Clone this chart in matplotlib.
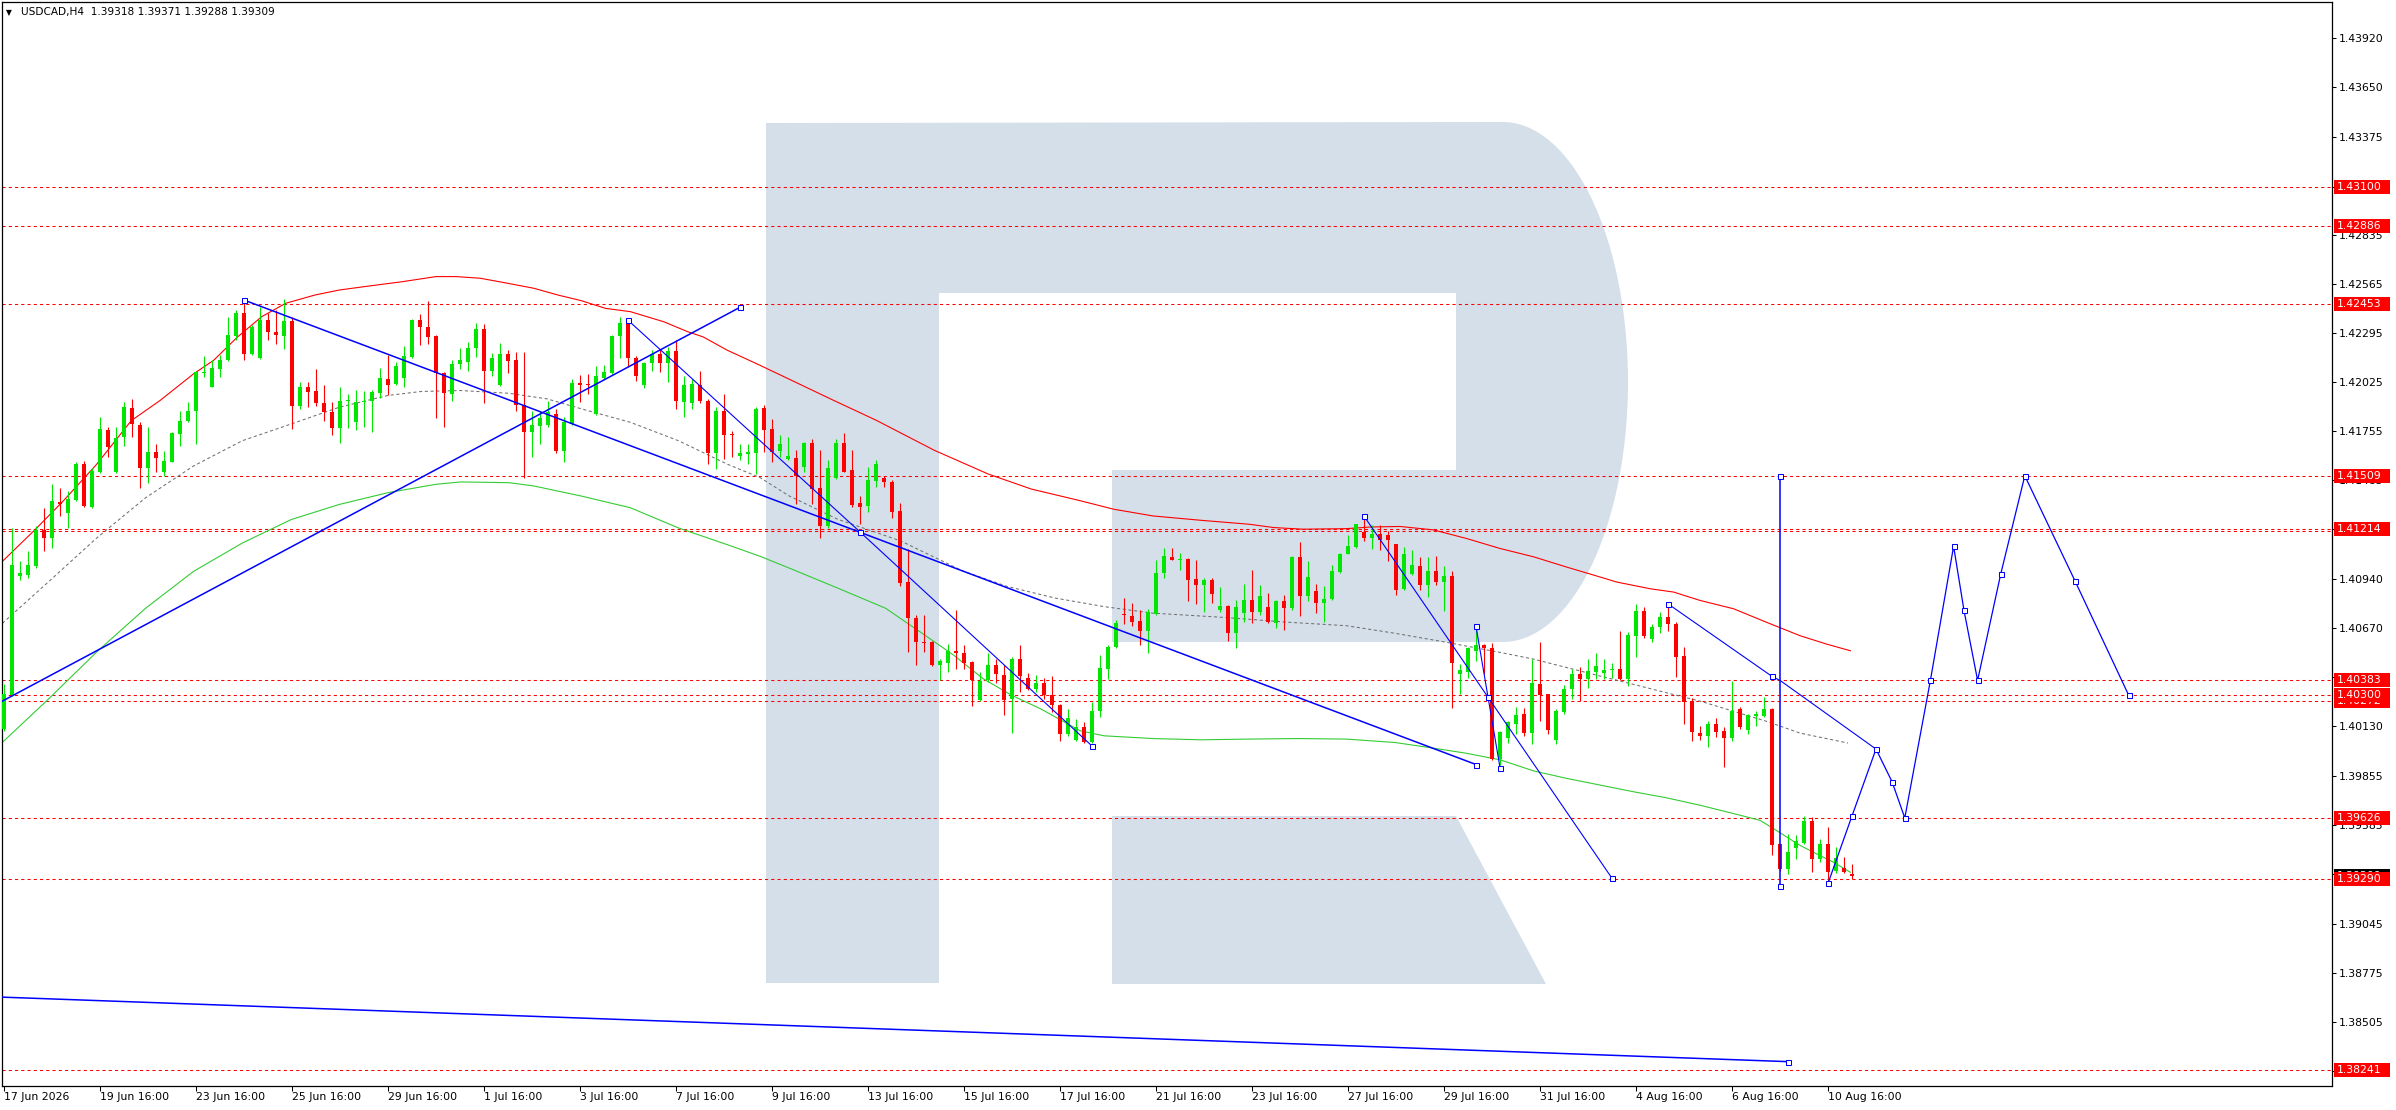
import numpy as np
import matplotlib
matplotlib.use("Agg")
import matplotlib.pyplot as plt
from matplotlib.patches import Rectangle, Polygon
from matplotlib.transforms import blended_transform_factory

plt.rcParams['font.family'] = ['DejaVu Sans']

# ---------------- data ----------------
symbol_title = "USDCAD,H4  1.39318 1.39371 1.39288 1.39309"

opens = [1.40116,1.40300,1.40955,1.40964,1.41010,1.41208,1.41167,1.41364,1.41305,1.41373,
         1.41573,1.41338,1.41527,1.41763,1.41527,1.41720,1.41881,1.41790,1.41554,1.41641,
         1.41527,1.41587,1.41739,1.41812,1.41864,1.42074,1.42000,1.42094,1.42144,1.42277,
         1.42402,1.42181,1.42157,1.42365,1.42301,1.42279,1.42360,1.41895,1.42000,1.41973,
         1.41910,1.41862,1.41770,1.41919,1.41807,1.41914,1.41919,1.41964,1.42043,1.42015,
         1.42046,1.42163,1.42365,1.42327,1.42277,1.42074,1.41960,1.42122,1.42135,1.42212,
         1.42314,1.42085,1.42006,1.42181,1.42144,1.41899,1.41748,1.41785,1.41788,1.41849,
         1.41646,1.41794,1.42021,1.42015,1.41849,1.42048,1.42076,1.42277,1.42356,1.42159,
         1.42006,1.42131,1.42177,1.42131,1.42194,1.41914,1.41910,1.42011,1.41923,1.41632,
         1.41868,1.41737,1.41615,1.41628,1.41637,1.41880,1.41765,1.41643,1.41599,1.41608,
         1.41556,1.41689,1.41442,1.41233,1.41497,1.41691,1.41538,1.41357,1.41344,1.41482,
         1.41497,1.41477,1.41316,1.40923,1.40728,1.40595,1.40592,1.40466,1.40479,1.40546,
         1.40534,1.40485,1.40276,1.40383,1.40466,1.40411,1.40281,1.40499,1.40396,1.40337,
         1.40368,1.40305,1.40248,1.40087,1.40056,1.40124,1.40045,1.40217,1.40448,1.40564,
         1.40749,1.40740,1.40712,1.40656,1.40749,1.40974,1.41061,1.41045,1.41052,1.40941,
         1.40910,1.40934,1.40771,1.40795,1.40642,1.40753,1.40826,1.40762,1.40789,1.40697,
         1.40818,1.40780,1.41061,1.40845,1.40873,1.40808,1.40832,1.40980,1.41080,1.41118,
         1.41200,1.41168,1.41187,1.41183,1.41131,1.40884,1.40971,1.41011,1.40906,1.40983,
         1.40924,1.40956,1.40420,1.40431,1.40546,1.40577,1.40559,1.39949,1.40066,1.40145,
         1.40199,1.40093,1.40361,1.40306,1.40053,1.40208,1.40333,1.40416,1.40389,1.40430,
         1.40426,1.40441,1.40444,1.40389,1.40629,1.40767,1.40610,1.40675,1.40734,1.40693,
         1.40518,1.40269,1.40093,1.40075,1.40143,1.40103,1.40066,1.40223,1.40108,1.40186,
         1.40186,1.40228,1.39480,1.39345,1.39462,1.39489,1.39608,1.39401,1.39480,1.39336,
         1.39351,1.39318]
highs = [1.40365,1.41222,1.41038,1.41093,1.41231,1.41333,1.41462,1.41444,1.41425,1.41582,
         1.41591,1.41554,1.41831,1.41775,1.41775,1.41914,1.41932,1.41803,1.41775,1.41683,
         1.41646,1.41748,1.41868,1.41914,1.42083,1.42166,1.42144,1.42172,1.42384,1.42421,
         1.42472,1.42338,1.42439,1.42402,1.42421,1.42480,1.42384,1.42024,1.42024,1.42094,
         1.42006,1.41914,1.42000,1.41960,1.41982,1.41975,1.41982,1.42100,1.42172,1.42135,
         1.42225,1.42369,1.42397,1.42472,1.42281,1.42080,1.42144,1.42214,1.42246,1.42347,
         1.42343,1.42185,1.42240,1.42199,1.42190,1.42190,1.41868,1.41868,1.41923,1.41877,
         1.41831,1.42043,1.42065,1.42067,1.42113,1.42117,1.42281,1.42384,1.42369,1.42166,
         1.42135,1.42199,1.42209,1.42218,1.42258,1.42059,1.42043,1.42083,1.41932,1.41886,
         1.41960,1.41757,1.41683,1.41683,1.41886,1.41898,1.41821,1.41732,1.41723,1.41649,
         1.41695,1.41713,1.41649,1.41597,1.41713,1.41747,1.41649,1.41399,1.41556,1.41597,
         1.41510,1.41488,1.41357,1.41104,1.40743,1.40743,1.40599,1.40503,1.40581,1.40771,
         1.40577,1.40488,1.40429,1.40536,1.40503,1.40466,1.40512,1.40577,1.40425,1.40411,
         1.40396,1.40408,1.40254,1.40226,1.40170,1.40152,1.40263,1.40522,1.40577,1.40716,
         1.40836,1.40808,1.40771,1.40777,1.41043,1.41109,1.41113,1.41085,1.41057,1.41048,
         1.40947,1.40947,1.40895,1.40799,1.40826,1.40913,1.40993,1.40910,1.40863,1.40826,
         1.40854,1.41067,1.41144,1.41039,1.40913,1.40900,1.41020,1.41085,1.41183,1.41246,
         1.41279,1.41239,1.41237,1.41205,1.41135,1.41118,1.41100,1.41063,1.41063,1.41067,
         1.41011,1.40983,1.40472,1.40564,1.40679,1.40583,1.40588,1.40106,1.40158,1.40236,
         1.40232,1.40503,1.40592,1.40309,1.40223,1.40357,1.40444,1.40457,1.40500,1.40531,
         1.40500,1.40481,1.40657,1.40647,1.40804,1.40789,1.40693,1.40758,1.40795,1.40703,
         1.40564,1.40287,1.40130,1.40158,1.40176,1.40125,1.40380,1.40236,1.40200,1.40217,
         1.40291,1.40232,1.39484,1.39536,1.39530,1.39637,1.39632,1.39512,1.39576,1.39465,
         1.39410,1.39371]
lows = [1.40107,1.40295,1.40937,1.40946,1.41001,1.41093,1.41112,1.41287,1.41222,1.41370,
        1.41337,1.41333,1.41523,1.41610,1.41523,1.41674,1.41720,1.41444,1.41471,1.41527,
        1.41508,1.41582,1.41674,1.41803,1.41683,1.42052,1.41997,1.42052,1.42141,1.42255,
        1.42144,1.42172,1.42153,1.42255,1.42236,1.42209,1.41766,1.41877,1.41886,1.41895,
        1.41812,1.41735,1.41687,1.41772,1.41761,1.41775,1.41748,1.41938,1.41956,1.42006,
        1.41997,1.42159,1.42231,1.42233,1.41825,1.41775,1.41923,1.42094,1.42083,1.42163,
        1.41912,1.42059,1.42002,1.42074,1.41868,1.41495,1.41610,1.41683,1.41775,1.41632,
        1.41585,1.41790,1.41914,1.41960,1.41845,1.42043,1.42070,1.42159,1.42107,1.42030,
        1.41991,1.42085,1.42080,1.42024,1.41877,1.41831,1.41877,1.41910,1.41576,1.41545,
        1.41600,1.41610,1.41598,1.41573,1.41517,1.41640,1.41584,1.41612,1.41593,1.41353,
        1.41529,1.41353,1.41168,1.41224,1.41492,1.41529,1.41335,1.41246,1.41307,1.41449,
        1.41449,1.41279,1.40900,1.40540,1.40466,1.40540,1.40462,1.40383,1.40429,1.40448,
        1.40448,1.40241,1.40272,1.40374,1.40370,1.40192,1.40096,1.40318,1.40328,1.40318,
        1.40281,1.40207,1.40050,1.40078,1.40052,1.40041,1.40037,1.40180,1.40392,1.40559,
        1.40692,1.40684,1.40577,1.40531,1.40743,1.40947,1.41043,1.40993,1.40821,1.40802,
        1.40758,1.40808,1.40758,1.40599,1.40559,1.40706,1.40697,1.40743,1.40697,1.40669,
        1.40660,1.40771,1.40738,1.40818,1.40753,1.40703,1.40826,1.40974,1.41076,1.41113,
        1.41150,1.41107,1.41098,1.41039,1.40854,1.40878,1.40961,1.40878,1.40841,1.40906,
        1.40767,1.40232,1.40309,1.40398,1.40490,1.40416,1.39946,1.39918,1.40038,1.40086,
        1.40075,1.40032,1.40158,1.40090,1.40032,1.40199,1.40278,1.40272,1.40339,1.40389,
        1.40389,1.40394,1.40383,1.40352,1.40511,1.40616,1.40592,1.40642,1.40657,1.40404,
        1.40143,1.40051,1.40056,1.40019,1.40069,1.39905,1.40047,1.40117,1.40088,1.40130,
        1.40180,1.39423,1.39336,1.39318,1.39401,1.39484,1.39327,1.39382,1.39271,1.39323,
        1.39321,1.39288]
closes = [1.40310,1.41020,1.40973,1.41016,1.41213,1.41167,1.41370,1.41355,1.41379,1.41576,
          1.41342,1.41536,1.41766,1.41665,1.41716,1.41886,1.41794,1.41554,1.41641,1.41606,
          1.41591,1.41742,1.41812,1.41868,1.42080,1.42080,1.42104,1.42148,1.42282,1.42402,
          1.42181,1.42329,1.42365,1.42301,1.42281,1.42360,1.41895,1.41997,1.41969,1.41908,
          1.41858,1.41770,1.41923,1.41928,1.41917,1.41923,1.41969,1.42046,1.42010,1.42115,
          1.42166,1.42365,1.42325,1.42273,1.42074,1.41964,1.42126,1.42144,1.42214,1.42314,
          1.42085,1.42155,1.42181,1.42141,1.41899,1.41748,1.41790,1.41825,1.41862,1.41646,
          1.41803,1.42021,1.42011,1.42006,1.42056,1.42080,1.42277,1.42347,1.42159,1.42056,
          1.42131,1.42181,1.42131,1.42194,1.41923,1.42006,1.42015,1.41919,1.41632,1.41868,
          1.41733,1.41731,1.41633,1.41641,1.41877,1.41760,1.41640,1.41682,1.41616,1.41505,
          1.41689,1.41436,1.41233,1.41553,1.41691,1.41532,1.41349,1.41338,1.41488,1.41575,
          1.41473,1.41312,1.40919,1.40728,1.40592,1.40586,1.40466,1.40490,1.40546,1.40531,
          1.40481,1.40383,1.40377,1.40466,1.40420,1.40276,1.40503,1.40407,1.40337,1.40368,
          1.40300,1.40248,1.40087,1.40174,1.40128,1.40045,1.40217,1.40453,1.40568,1.40697,
          1.40743,1.40706,1.40656,1.40758,1.40974,1.41067,1.41048,1.41048,1.40934,1.40906,
          1.40934,1.40858,1.40795,1.40642,1.40789,1.40826,1.40762,1.40845,1.40703,1.40818,
          1.40784,1.41061,1.40845,1.40950,1.40808,1.40832,1.40984,1.41081,1.41122,1.41242,
          1.41168,1.41190,1.41154,1.41154,1.40882,1.41081,1.41020,1.40906,1.40985,1.40924,
          1.40956,1.40481,1.40441,1.40559,1.40579,1.40559,1.39949,1.40097,1.40152,1.40195,
          1.40093,1.40367,1.40300,1.40108,1.40213,1.40337,1.40416,1.40392,1.40435,1.40463,
          1.40441,1.40448,1.40389,1.40634,1.40767,1.40629,1.40679,1.40734,1.40693,1.40514,
          1.40265,1.40101,1.40079,1.40143,1.40097,1.40066,1.40217,1.40127,1.40191,1.40199,
          1.40228,1.39478,1.39345,1.39441,1.39497,1.39608,1.39401,1.39480,1.39330,1.39404,
          1.39327,1.39309]

# moving averages (bar index, price)
red_ma_x = [-0.2,3.9,7.4,11.6,15.9,19.5,23.7,26.2,29.2,32.2,35.2,38.9,41.9,45.6,49.8,54.0,56.5,
            59.5,62.5,66.2,69.2,72.2,75.2,78.3,82.5,85.5,87.4,90.4,94.5,103.6,109.0,116.3,123.0,
            128.4,134.5,138.7,143.6,149.6,155.7,158.7,162.4,167.8,170.8,174.5,178.7,182.8,187,
            191.2,195.3,199.5,201.6,205.8,208.7,212,216.2,220.3,222.4,224.5,227.8,230.8]
red_ma_y = [1.41038,1.41213,1.41370,1.41573,1.41812,1.41923,1.42070,1.42144,1.42273,1.42384,
            1.42458,1.42504,1.42531,1.42553,1.42577,1.42605,1.42605,1.42596,1.42572,1.42541,
            1.42504,1.42472,1.42430,1.42412,1.42356,1.42301,1.42273,1.42200,1.42117,1.41926,
            1.41815,1.41649,1.41519,1.41436,1.41372,1.41325,1.41288,1.41264,1.41242,1.41224,
            1.41215,1.41218,1.41227,1.41230,1.41211,1.41164,1.41109,1.41063,1.41007,1.40952,
            1.40924,1.40887,1.40869,1.40823,1.40777,1.40703,1.40666,1.40629,1.40583,1.40546]
green_ma_x = [-0.2,5.6,11.6,17.7,23.7,29.8,35.9,41.9,48.0,54.0,57.1,63.1,66.2,72.2,78.3,84.3,
              90.4,94.5,98.1,104.2,110.2,115.1,118.7,122.4,126.0,129.6,134.5,137.5,143.6,149.6,
              155.7,161.8,167.8,173.9,178.7,182.8,187.0,191.2,195.3,199.5,203.7,207.8,212.0,
              216.2,219.5,221.2,224.5,227.0,228.7,230.8]
green_ma_y = [1.40042,1.40282,1.40540,1.40780,1.40983,1.41139,1.41268,1.41351,1.41416,1.41462,
              1.41475,1.41471,1.41453,1.41397,1.41333,1.41222,1.41130,1.41066,1.41002,1.40891,
              1.40780,1.40632,1.40522,1.40392,1.40300,1.40226,1.40106,1.40078,1.40063,1.40056,
              1.40060,1.40063,1.40060,1.40041,1.40010,1.39982,1.39946,1.39885,1.39844,1.39807,
              1.39770,1.39737,1.39696,1.39650,1.39613,1.39567,1.39475,1.39419,1.39382,1.39327]
gray_ma_x = [-0.2,5.6,11.6,17.7,23.7,29.8,35.9,41.9,48.0,52.2,57.1,63.1,67.9,72.2,78.3,84.3,
             90.4,94.5,98.1,104.2,112.1,119.9,125.4,131.4,137.5,143.6,152.7,160.5,167.8,173.9,
             180.0,187.0,191.2,195.3,199.5,203.7,207.8,212.0,216.2,220.3,224.5,230.5]
gray_ma_y = [1.40697,1.40927,1.41167,1.41388,1.41563,1.41702,1.41794,1.41886,1.41951,1.41973,
             1.41978,1.41963,1.41932,1.41877,1.41803,1.41702,1.41573,1.41499,1.41399,1.41270,
             1.41150,1.40984,1.40900,1.40836,1.40789,1.40753,1.40729,1.40703,1.40684,1.40642,
             1.40595,1.40537,1.40500,1.40454,1.40407,1.40361,1.40315,1.40269,1.40213,1.40158,
             1.40093,1.40038]

# blue drawing objects: (bar index, price)
blue_thick = {
    "rise":   ([-0.25, 92], [1.40268, 1.42436]),
    "fall":   ([30, 184], [1.42476, 1.39920]),
    "bottom": ([-0.25, 223], [1.38640, 1.38285]),
    "vert":   ([222, 222], [1.41509, 1.39253]),
}
blue_thin = {
    "c": ([78, 107, 136], [1.42365, 1.41200, 1.40022]),
    "d": ([170, 201], [1.41287, 1.39294]),
    "e": ([184, 185.5, 187], [1.40680, 1.40292, 1.39903]),
    "g": ([208, 221, 222, 234], [1.40804, 1.40405, 1.40383, 1.40005]),
}
forecast_x = [228, 231, 234, 236, 237.6, 240.8, 243.7, 245, 246.7, 249.6, 252.6, 258.9, 265.6]
forecast_y = [1.39266, 1.39637, 1.40005, 1.39826, 1.39626, 1.40383, 1.41121, 1.40768, 1.40383,
              1.40970, 1.41509, 1.40928, 1.40300]
marker_pts_x = [92, 30, 184, 222, 222, 78, 107, 136, 170, 201, 184, 185.5, 187, 208, 221, 223]
marker_pts_y = [1.42436, 1.42476, 1.39920, 1.41509, 1.39253, 1.42365, 1.41200, 1.40022, 1.41287,
                1.39294, 1.40680, 1.40292, 1.39903, 1.40804, 1.40405, 1.38285]

levels = [1.43100, 1.42886, 1.42453, 1.41509, 1.41214, 1.41205, 1.40383, 1.40300, 1.40272,
          1.39626, 1.39290, 1.38241]
level_labels = [1.38241, 1.39290, 1.39626, 1.40272, 1.40300, 1.40383, 1.41214, 1.41509,
                1.42453, 1.42886, 1.43100]
last_price = 1.39309

ytick_vals = [1.43920, 1.43650, 1.43375, 1.43100, 1.42835, 1.42565, 1.42295, 1.42025, 1.41755,
              1.41485, 1.41215, 1.40940, 1.40670, 1.40400, 1.40130, 1.39855, 1.39585, 1.39315,
              1.39045, 1.38775, 1.38505, 1.38235]
xtick_bars = list(range(0, 229, 12))
xtick_labels = ['17 Jun 2026', '19 Jun 16:00', '23 Jun 16:00', '25 Jun 16:00', '29 Jun 16:00',
                '1 Jul 16:00', '3 Jul 16:00', '7 Jul 16:00', '9 Jul 16:00', '13 Jul 16:00',
                '15 Jul 16:00', '17 Jul 16:00', '21 Jul 16:00', '23 Jul 16:00', '27 Jul 16:00',
                '29 Jul 16:00', '31 Jul 16:00', '4 Aug 16:00', '6 Aug 16:00', '10 Aug 16:00']

# ---------------- figure ----------------
W, H = 2396, 1110
fig = plt.figure(figsize=(W / 100, H / 100), dpi=100)
fig.patch.set_facecolor('white')
PL, PR, PT, PB = 2, 2332, 2, 1086
ax = fig.add_axes([PL / W, 1 - PB / H, (PR - PL) / W, (PB - PT) / H])
ax.set_xlim(-0.25, 291.0)
ax.set_ylim(1.38151, 1.44116)

FS = 7.8
BLUE = '#0000ff'
RED = '#ff0000'
GREEN = '#00e600'

# watermark logo (screen overlay, pixel coords)
def px(pts):
    return [(x / W, 1 - y / H) for x, y in pts]

cx, cy, rx, ry = 1503, 382, 125, 260
t = np.linspace(np.pi / 2, -np.pi / 2, 60)
arc = [(cx + rx * np.cos(a), cy - ry * np.sin(a)) for a in t]
outer = [(766, 123)] + arc + [(1112, 642), (1112, 470), (1456, 470), (1456, 293),
                               (939, 293), (939, 983), (766, 983)]
wm = '#d4dfea'
ax.add_patch(Polygon(px(outer), closed=True, transform=fig.transFigure, facecolor=wm,
                     edgecolor='none', zorder=0.2))
leg = [(1112, 816), (1456, 816), (1546, 984), (1112, 984)]
ax.add_patch(Polygon(px(leg), closed=True, transform=fig.transFigure, facecolor=wm,
                     edgecolor='none', zorder=0.2))

# horizontal levels
for lv in levels:
    ax.axhline(lv, color=RED, lw=0.75, ls=(0, (3, 3)), zorder=1)

# moving averages
ax.plot(red_ma_x, red_ma_y, color=RED, lw=0.8, zorder=2)
ax.plot(green_ma_x, green_ma_y, color='#33cc33', lw=0.8, zorder=2)
ax.plot(gray_ma_x, gray_ma_y, color='#707070', lw=0.75, ls=(0, (3, 2.5)), zorder=2)

# candles
o = np.array(opens); h = np.array(highs); l = np.array(lows); c = np.array(closes)
idx = np.arange(len(o))
up = c >= o
cols = np.where(up, GREEN, RED)
ax.vlines(idx, l, h, colors=cols, lw=0.8, zorder=3)
bot = np.minimum(o, c)
hgt = np.maximum(np.abs(c - o), 0.00006)
ax.bar(idx, hgt, bottom=bot, width=0.62, color=cols, lw=0, zorder=4)

# blue objects
for xs, ys in blue_thick.values():
    ax.plot(xs, ys, color=BLUE, lw=1.1, zorder=5)
for xs, ys in blue_thin.values():
    ax.plot(xs, ys, color=BLUE, lw=0.8, zorder=5)
ax.plot(forecast_x, forecast_y, color=BLUE, lw=0.9, zorder=5)
ax.plot(forecast_x, forecast_y, ls='none', marker='s', ms=3.6, mfc='white', mec=BLUE,
        mew=0.75, zorder=6)
ax.plot(marker_pts_x, marker_pts_y, ls='none', marker='s', ms=3.6, mfc='white', mec=BLUE,
        mew=0.75, zorder=6)

# axes styling
for s in ax.spines.values():
    s.set_color('black'); s.set_linewidth(0.9)
ax.yaxis.tick_right()
ax.set_yticks(ytick_vals)
ax.set_yticklabels([f"{v:.5f}" for v in ytick_vals])
ax.tick_params(axis='y', which='both', length=3, width=0.75, pad=2, labelsize=FS,
               colors='black', right=True, left=False)
ax.set_xticks(xtick_bars)
ax.set_xticklabels(xtick_labels)
ax.tick_params(axis='x', length=3.5, width=0.75, pad=1, labelsize=FS, colors='black')
for tl in ax.get_xticklabels():
    tl.set_ha('left')

# price labels on the right axis
trans = blended_transform_factory(ax.transAxes, ax.transData)
axw = PR - PL
bx0 = 1 + 2 / axw
bw = 56 / axw
tx = 1 + 5 / axw
ppx = (1.44116 - 1.38151) / (PB - PT)
bh = 14 * ppx

def price_label(p, fc, z):
    ax.add_patch(Rectangle((bx0, p - bh / 2), bw, bh, transform=trans, facecolor=fc,
                           edgecolor='none', clip_on=False, zorder=z))
    ax.text(tx, p, f"{p:.5f}", transform=trans, color='white', fontsize=FS, ha='left',
            va='center', clip_on=False, zorder=z + 0.5)

price_label(last_price, 'black', 20)
for k, lv in enumerate(level_labels):
    price_label(lv, RED, 22 + k)

# title
fig.text(6 / W, 1 - 12.5 / H, '\u25bc', fontsize=5.5, va='center', ha='left')
fig.text(21 / W, 1 - 12.5 / H, symbol_title, fontsize=7.6, va='center', ha='left')

fig.savefig('out.png', dpi=100, facecolor='white')
